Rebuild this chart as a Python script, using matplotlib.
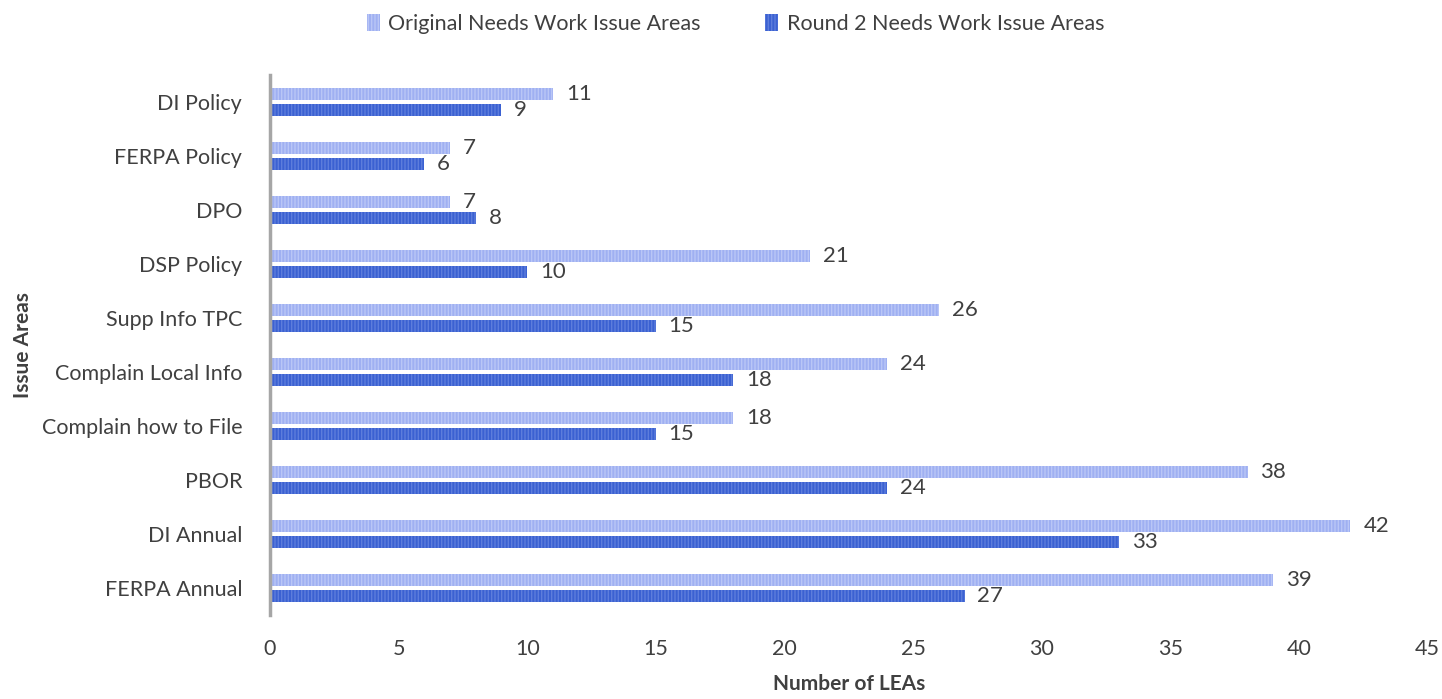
import numpy as np
import matplotlib.pyplot as plt

categories = ["DI Policy", "FERPA Policy", "DPO", "DSP Policy", "Supp Info TPC",
              "Complain Local Info", "Complain how to File", "PBOR", "DI Annual",
              "FERPA Annual"]
original = [11, 7, 7, 21, 26, 24, 18, 38, 42, 39]
round2 = [9, 6, 8, 10, 15, 18, 15, 24, 33, 27]

plt.rcParams['font.family'] = ['Lato', 'DejaVu Sans']
plt.rcParams['hatch.linewidth'] = 1.0
text_color = '#404040'

fig = plt.figure(figsize=(14.42, 6.99), dpi=100)
ax = fig.add_axes([0.1872, 0.1202, 0.8028, 0.7725])

y = np.arange(len(categories))
h = 0.22
off = 0.15
b1 = ax.barh(y - off, original, height=h, color='#9fb0f2', edgecolor='#b9c6f6',
             linewidth=0, hatch='|||||', label='Original Needs Work Issue Areas')
b2 = ax.barh(y + off, round2, height=h, color='#3b61d2', edgecolor='#5d7ddc',
             linewidth=0, hatch='|||||', label='Round 2 Needs Work Issue Areas')

for bars, vals in ((b1, original), (b2, round2)):
    for bar, v in zip(bars, vals):
        ax.text(bar.get_width() + 0.5, bar.get_y() + bar.get_height() / 2, str(v),
                va='center', ha='left', fontsize=16, color=text_color)

ax.set_ylim(9.5, -0.5)
ax.set_xlim(0, 45)
ax.set_yticks(y)
ax.set_yticklabels(categories)
ax.set_xticks(range(0, 46, 5))
ax.tick_params(axis='both', length=0, labelsize=15.5, colors=text_color)
ax.tick_params(axis='y', pad=20)
ax.tick_params(axis='x', pad=17)

for s in ['top', 'right', 'bottom']:
    ax.spines[s].set_visible(False)
ax.spines['left'].set_color('#a6a6a6')
ax.spines['left'].set_linewidth(2.5)

ax.set_xlabel("Number of LEAs", fontsize=15, fontweight='bold', color=text_color, labelpad=11)
ax.set_ylabel("Issue Areas", fontsize=15, fontweight='bold', color=text_color, labelpad=6)

fig.legend(handles=[b1, b2], loc='upper center', bbox_to_anchor=(0.51, 1.008), ncol=2,
           frameon=False, fontsize=15.5, handlelength=0.6, handleheight=0.8,
           handletextpad=0.4, columnspacing=3.0, labelcolor=text_color)

fig.savefig('out.png', dpi=100)
